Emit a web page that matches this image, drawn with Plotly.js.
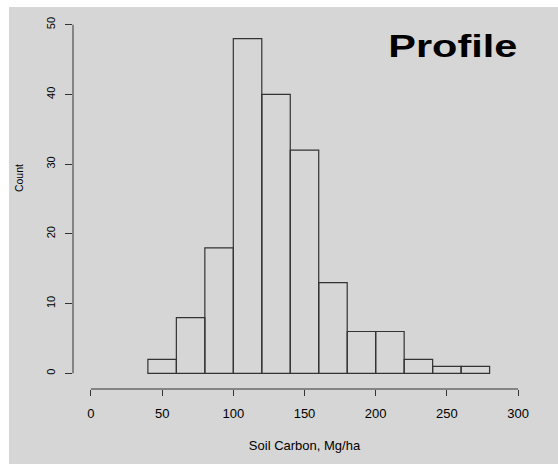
<!DOCTYPE html>
<html>
<head>
<meta charset="utf-8">
<script src="https://cdn.plot.ly/plotly-3.0.1.min.js"></script>
<style>
html, body { margin: 0; padding: 0; background: #ffffff; width: 558px; height: 464px; overflow: hidden; }
#chart { position: absolute; left: 9px; top: 7px; width: 549px; height: 457px; }
</style>
</head>
<body>
<div id="chart"></div>
<script>
// Histogram of soil carbon (profile)
const binStart = [40, 60, 80, 100, 120, 140, 160, 180, 200, 220, 240, 260];
const binWidth = 20;
const counts = [2, 8, 18, 48, 40, 32, 13, 6, 6, 2, 1, 1];
const xTicks = [0, 50, 100, 150, 200, 250, 300];
const yTicks = [0, 10, 20, 30, 40, 50];

const binCenter = binStart.map(s => s + binWidth / 2);
const bg = '#d6d6d6';
const ink = '#333333';

const trace = {
  type: 'bar',
  x: binCenter,
  y: counts,
  width: binStart.map(() => binWidth),
  marker: { color: 'rgba(0,0,0,0)', line: { color: ink, width: 1.2 } },
  hoverinfo: 'x+y'
};

const layout = {
  width: 549, height: 457,
  margin: { l: 64, r: 22, t: 2, b: 75 },
  paper_bgcolor: bg, plot_bgcolor: bg,
  showlegend: false,
  font: { family: 'Liberation Sans, Arial, sans-serif', color: '#000000' },
  xaxis: {
    range: [-12.6, 312.6],
    tickvals: xTicks, ticktext: xTicks.map(String),
    ticks: 'outside', ticklen: 6, tickcolor: ink, tickwidth: 1,
    ticklabelstandoff: 6,
    showline: false, showgrid: false, zeroline: false,
    tickfont: { size: 13, color: '#000000' },
    title: { text: 'Soil Carbon, Mg/ha', font: { size: 13, color: '#000000' }, standoff: 21 }
  },
  yaxis: {
    range: [-2.25, 52.25],
    tickvals: yTicks, ticktext: yTicks.map(String),
    ticks: 'outside', ticklen: 7, tickcolor: ink, tickwidth: 1,
    ticklabelstandoff: 6,
    tickangle: -90,
    showline: false, showgrid: false, zeroline: false,
    tickfont: { size: 11, color: '#000000' }
  },
  shapes: [
    { type: 'line', xref: 'x', yref: 'paper', x0: xTicks[0], x1: xTicks[xTicks.length - 1], y0: 0, y1: 0, line: { color: ink, width: 1 } },
    { type: 'line', xref: 'paper', yref: 'y', x0: 0, x1: 0, y0: yTicks[0], y1: yTicks[yTicks.length - 1], line: { color: ink, width: 1 } }
  ],
  annotations: [
    { text: '<b>Profile</b>', xref: 'paper', yref: 'paper', x: 0.8197, y: 0.903, xanchor: 'center', yanchor: 'middle',
      showarrow: false, font: { size: 32, color: '#000000', family: 'Liberation Sans, Arial, sans-serif' } },
    { text: 'Count', xref: 'paper', yref: 'paper', x: -0.1166, y: 0.555, xanchor: 'center', yanchor: 'middle',
      textangle: -90, showarrow: false, font: { size: 10.5, color: '#000000' } }
  ]
};

Plotly.newPlot('chart', [trace], layout, { displayModeBar: false, staticPlot: true }).then(gd => {
  const t = gd.querySelector('.annotation .annotation-text');
  if (t) { t.setAttribute('textLength', '129'); t.setAttribute('lengthAdjust', 'spacingAndGlyphs'); }
});
</script>
</body>
</html>
